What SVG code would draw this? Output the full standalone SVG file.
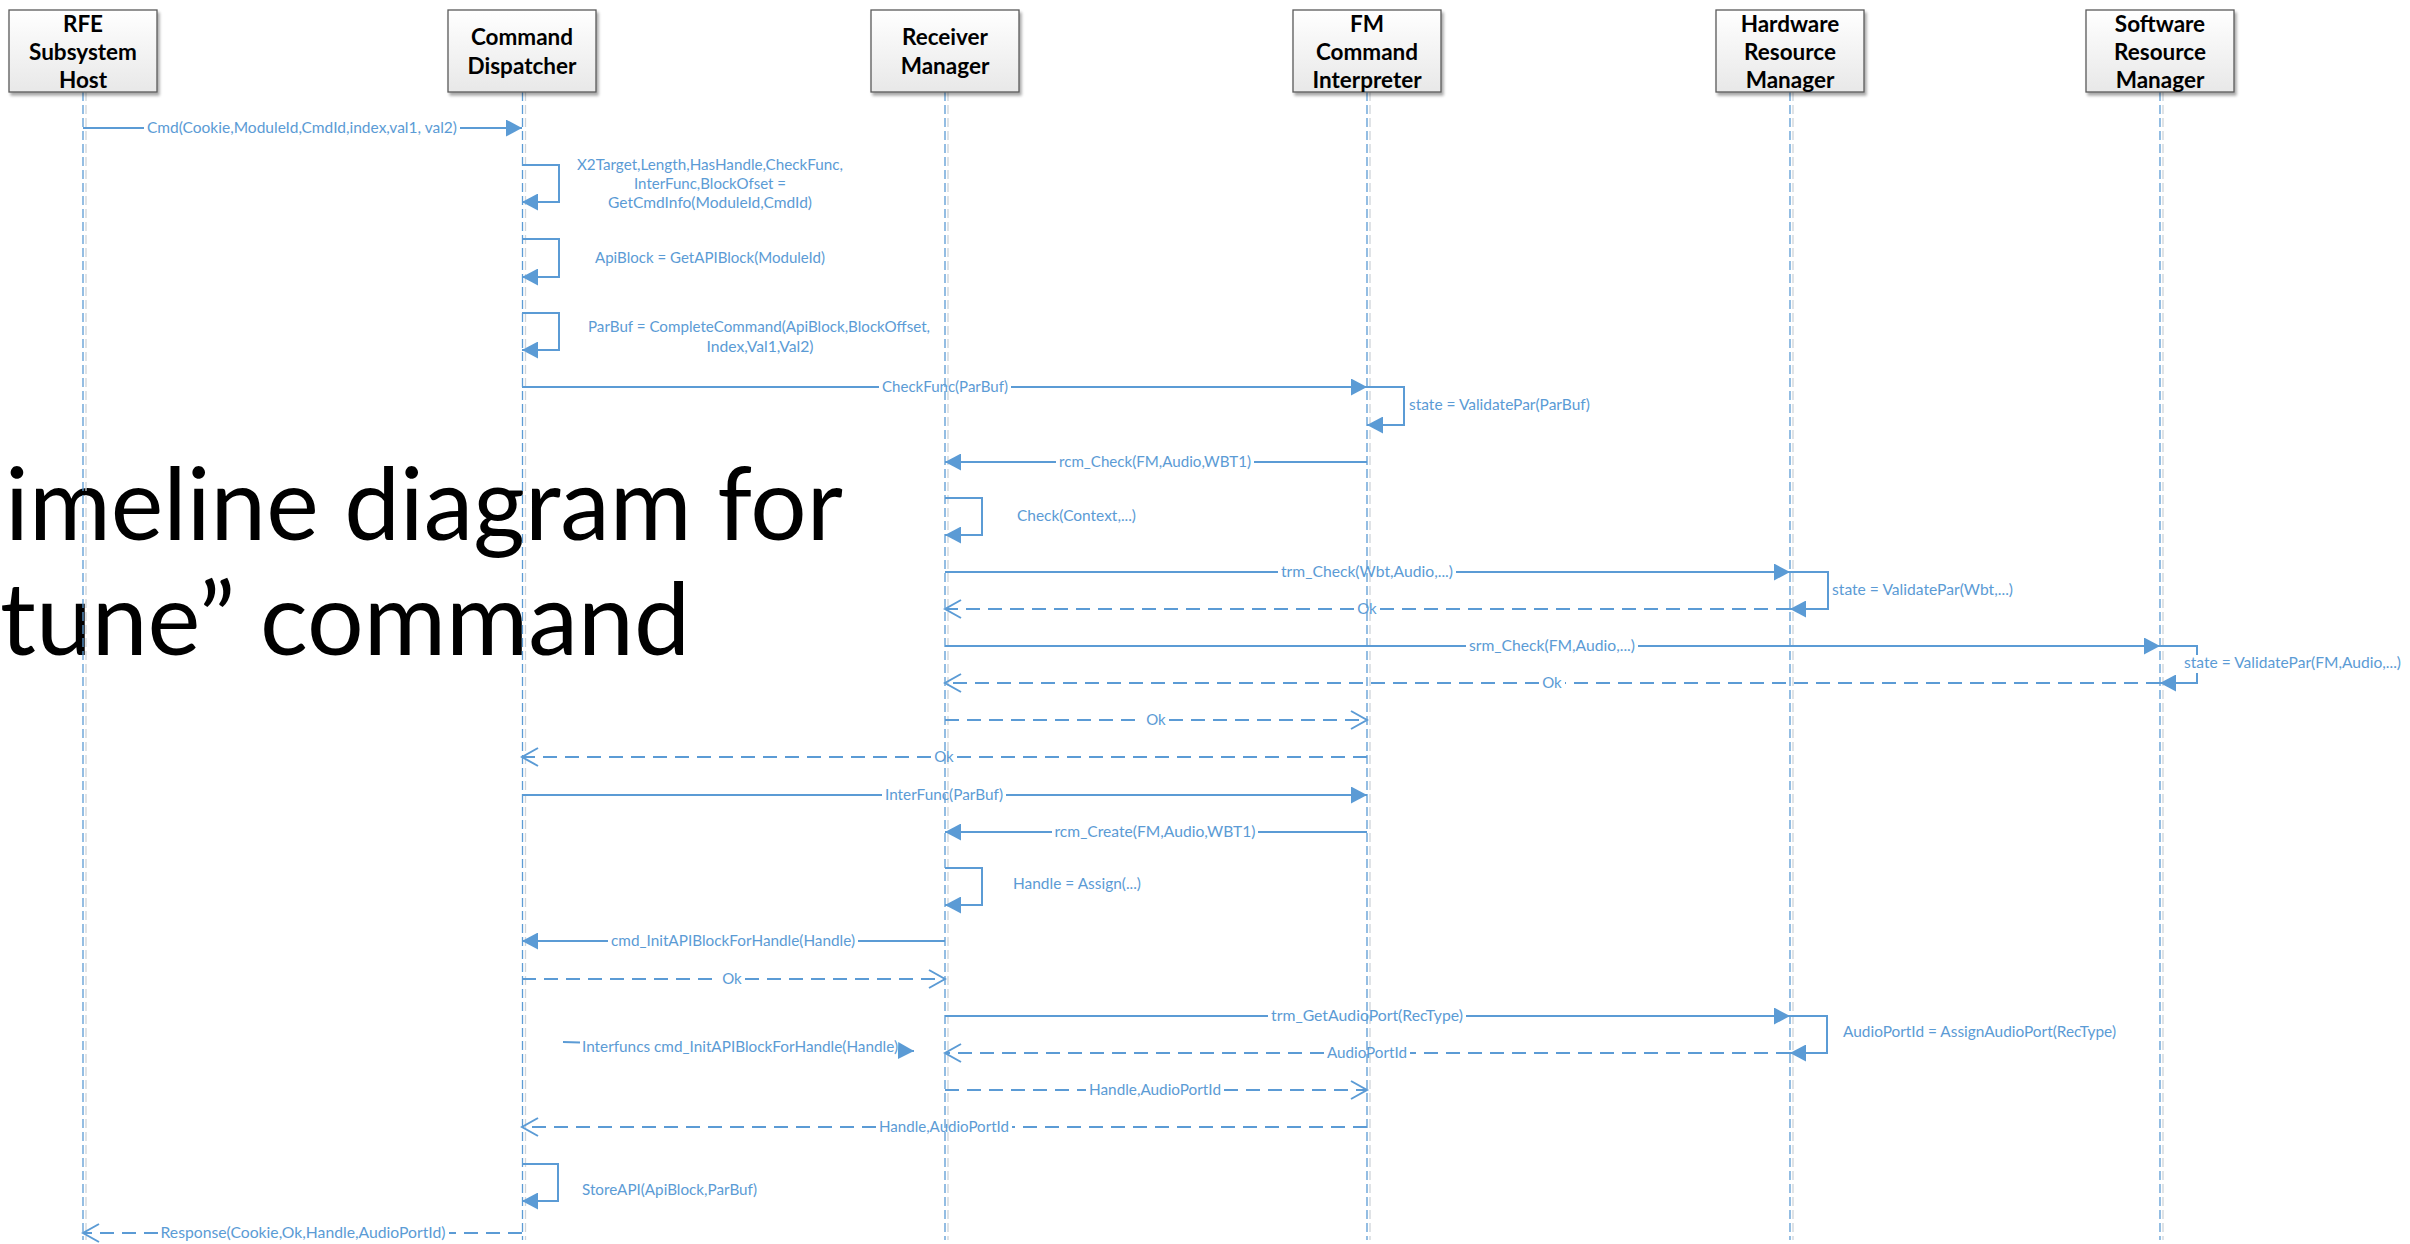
<svg xmlns="http://www.w3.org/2000/svg" width="2410" height="1244" viewBox="0 0 2410 1244">
<defs>
<linearGradient id="boxg" x1="0" y1="0" x2="0" y2="1">
<stop offset="0" stop-color="#ffffff"/>
<stop offset="1" stop-color="#e8e8e8"/>
</linearGradient>
<filter id="sh" x="-10%" y="-10%" width="130%" height="130%">
<feGaussianBlur in="SourceAlpha" stdDeviation="1.5"/>
<feOffset dx="2" dy="3" result="b"/>
<feComponentTransfer><feFuncA type="linear" slope="0.35"/></feComponentTransfer>
<feMerge><feMergeNode/><feMergeNode in="SourceGraphic"/></feMerge>
</filter>
<marker id="af" viewBox="0 0 16 17" refX="16" refY="8.5" markerWidth="16" markerHeight="17" markerUnits="userSpaceOnUse" orient="auto">
<path d="M0,0 L16,8.5 L0,17 Z" fill="#5b9bd5"/>
</marker>
<marker id="ao" viewBox="-2 -2 20 22" refX="16" refY="9" markerWidth="20" markerHeight="22" markerUnits="userSpaceOnUse" orient="auto">
<path d="M0,0 L16,9 L0,18" fill="none" stroke="#5b9bd5" stroke-width="2"/>
</marker>
</defs>
<style>
.box{fill:url(#boxg);stroke:#5a5a5a;stroke-width:1.3;filter:url(#sh)}
.bt{font-family:Lato,"Liberation Sans",sans-serif;font-weight:bold;font-size:22.5px;fill:#000;text-anchor:middle}
.ll{stroke:#5b9bd5;stroke-width:1.3;stroke-dasharray:9 4;fill:none}
.lls{stroke:#cfd4d9;stroke-width:1.3;stroke-dasharray:9 4;fill:none}
.m{stroke:#5b9bd5;stroke-width:2;fill:none;marker-end:url(#af)}
.r{stroke:#5b9bd5;stroke-width:2;fill:none;stroke-dasharray:14 8;marker-end:url(#ao)}
.lb{font-family:Lato,"Liberation Sans",sans-serif;font-size:15px;fill:#5b9bd5}
.c{text-anchor:middle}
.title{font-family:Lato,"Liberation Sans",sans-serif;font-size:100px;fill:#000}
</style>
<rect width="2410" height="1244" fill="#ffffff"/>

<g id="title">
<text class="title" x="5" y="540" textLength="838" lengthAdjust="spacingAndGlyphs">imeline diagram for</text>
<text class="title" x="0" y="655" textLength="690" lengthAdjust="spacingAndGlyphs">tune” command</text>
</g>

<g id="n-rfe">
<line class="lls" x1="86" y1="92" x2="86" y2="1240"/>
<line class="ll" x1="83" y1="92" x2="83" y2="1240"/>
<rect class="box" x="9" y="10" width="148" height="82"/>
<text class="bt" x="83" y="32">RFE</text>
<text class="bt" x="83" y="60">Subsystem</text>
<text class="bt" x="83" y="88">Host</text>
</g>
<g id="n-dispatcher">
<line class="lls" x1="525.5" y1="92" x2="525.5" y2="1240"/>
<line class="ll" x1="522.5" y1="92" x2="522.5" y2="1240"/>
<rect class="box" x="448" y="10" width="148" height="82"/>
<text class="bt" x="522" y="45">Command</text>
<text class="bt" x="522" y="74">Dispatcher</text>
</g>
<g id="n-receiver">
<line class="lls" x1="948" y1="92" x2="948" y2="1240"/>
<line class="ll" x1="945" y1="92" x2="945" y2="1240"/>
<rect class="box" x="871" y="10" width="148" height="82"/>
<text class="bt" x="945" y="45">Receiver</text>
<text class="bt" x="945" y="74">Manager</text>
</g>
<g id="n-fm">
<line class="lls" x1="1370" y1="92" x2="1370" y2="1240"/>
<line class="ll" x1="1367" y1="92" x2="1367" y2="1240"/>
<rect class="box" x="1293" y="10" width="148" height="82"/>
<text class="bt" x="1367" y="32">FM</text>
<text class="bt" x="1367" y="60">Command</text>
<text class="bt" x="1367" y="88">Interpreter</text>
</g>
<g id="n-hrm">
<line class="lls" x1="1793" y1="92" x2="1793" y2="1240"/>
<line class="ll" x1="1790" y1="92" x2="1790" y2="1240"/>
<rect class="box" x="1716" y="10" width="148" height="82"/>
<text class="bt" x="1790" y="32">Hardware</text>
<text class="bt" x="1790" y="60">Resource</text>
<text class="bt" x="1790" y="88">Manager</text>
</g>
<g id="n-srm">
<line class="lls" x1="2163" y1="92" x2="2163" y2="1240"/>
<line class="ll" x1="2160" y1="92" x2="2160" y2="1240"/>
<rect class="box" x="2086" y="10" width="148" height="82"/>
<text class="bt" x="2160" y="32">Software</text>
<text class="bt" x="2160" y="60">Resource</text>
<text class="bt" x="2160" y="88">Manager</text>
</g>

<g id="connectors">
<path class="m" d="M83 128 H144 M460 128 H522"/>
<path class="m" d="M522 165 H559 V202 H522"/>
<path class="m" d="M522 239 H559 V277 H522"/>
<path class="m" d="M522 313 H559 V350 H522"/>
<path class="m" d="M522 387 H879 M1011 387 H1367"/>
<path class="m" d="M1367 387 H1404 V425 H1367"/>
<path class="m" d="M1367 462 H1254 M1056 462 H945"/>
<path class="m" d="M945 498 H982 V535 H945"/>
<path class="m" d="M945 572 H1278 M1456 572 H1790"/>
<path class="m" d="M1790 572 H1828 V609 H1790"/>
<path class="r" d="M1790 609 H1380 M1354 609 H945"/>
<path class="m" d="M945 646 H1466 M1638 646 H2160"/>
<path class="m" d="M2160 646 H2197 V683 H2160"/>
<path class="r" d="M2160 683 H1565 M1539 683 H945"/>
<path class="r" d="M945 720 H1143 M1169 720 H1367"/>
<path class="r" d="M1367 757 H957 M931 757 H522"/>
<path class="m" d="M522 795 H882 M1006 795 H1367"/>
<path class="m" d="M1367 832 H1258 M1052 832 H945"/>
<path class="m" d="M945 868 H982 V905 H945"/>
<path class="m" d="M945 941 H858 M608 941 H522"/>
<path class="r" d="M522 979 H719 M745 979 H945"/>
<path class="m" d="M945 1016 H1268 M1466 1016 H1790"/>
<path class="m" d="M1790 1016 H1827 V1053 H1790"/>
<path class="r" d="M1790 1053 H1410 M1324 1053 H945"/>
<path class="m" d="M563 1042 L580 1042.4 M900 1050.6 L914 1051"/>
<path class="r" d="M945 1090 H1086 M1224 1090 H1367"/>
<path class="r" d="M1367 1127 H1012 M876 1127 H522"/>
<path class="m" d="M522 1164 H558 V1201 H522"/>
<path class="r" d="M522 1233 H449 M158 1233 H83"/>
</g>

<g id="labels">
<text class="lb c" x="302" y="133" textLength="310" lengthAdjust="spacingAndGlyphs">Cmd(Cookie,ModuleId,CmdId,index,val1, val2)</text>
<text class="lb c" x="710" y="170" textLength="266" lengthAdjust="spacingAndGlyphs">X2Target,Length,HasHandle,CheckFunc,</text>
<text class="lb c" x="710" y="189" textLength="152" lengthAdjust="spacingAndGlyphs">InterFunc,BlockOfset =</text>
<text class="lb c" x="710" y="208" textLength="204" lengthAdjust="spacingAndGlyphs">GetCmdInfo(ModuleId,CmdId)</text>
<text class="lb c" x="710" y="263" textLength="230" lengthAdjust="spacingAndGlyphs">ApiBlock = GetAPIBlock(ModuleId)</text>
<text class="lb c" x="759" y="332" textLength="342" lengthAdjust="spacingAndGlyphs">ParBuf = CompleteCommand(ApiBlock,BlockOffset,</text>
<text class="lb c" x="760" y="352" textLength="107" lengthAdjust="spacingAndGlyphs">Index,Val1,Val2)</text>
<text class="lb c" x="945" y="392" textLength="126" lengthAdjust="spacingAndGlyphs">CheckFunc(ParBuf)</text>
<text class="lb" x="1409" y="410" textLength="181" lengthAdjust="spacingAndGlyphs">state = ValidatePar(ParBuf)</text>
<text class="lb c" x="1155" y="467" textLength="192" lengthAdjust="spacingAndGlyphs">rcm_Check(FM,Audio,WBT1)</text>
<text class="lb" x="1017" y="521" textLength="119" lengthAdjust="spacingAndGlyphs">Check(Context,...)</text>
<text class="lb c" x="1367" y="577" textLength="172" lengthAdjust="spacingAndGlyphs">trm_Check(Wbt,Audio,...)</text>
<text class="lb" x="1832" y="595" textLength="181" lengthAdjust="spacingAndGlyphs">state = ValidatePar(Wbt,...)</text>
<text class="lb c" x="1367" y="614">Ok</text>
<text class="lb c" x="1552" y="651" textLength="166" lengthAdjust="spacingAndGlyphs">srm_Check(FM,Audio,...)</text>
<rect x="2182" y="655" width="222" height="18" fill="#ffffff"/>
<text class="lb" x="2184" y="668" textLength="217" lengthAdjust="spacingAndGlyphs">state = ValidatePar(FM,Audio,...)</text>
<text class="lb c" x="1552" y="688">Ok</text>
<text class="lb c" x="1156" y="725">Ok</text>
<text class="lb c" x="944" y="762">Ok</text>
<text class="lb c" x="944" y="800" textLength="118" lengthAdjust="spacingAndGlyphs">InterFunc(ParBuf)</text>
<text class="lb c" x="1155" y="837" textLength="201" lengthAdjust="spacingAndGlyphs">rcm_Create(FM,Audio,WBT1)</text>
<text class="lb" x="1013" y="889" textLength="128" lengthAdjust="spacingAndGlyphs">Handle = Assign(...)</text>
<text class="lb c" x="733" y="946" textLength="244" lengthAdjust="spacingAndGlyphs">cmd_InitAPIBlockForHandle(Handle)</text>
<text class="lb c" x="732" y="984">Ok</text>
<text class="lb c" x="1367" y="1021" textLength="192" lengthAdjust="spacingAndGlyphs">trm_GetAudioPort(RecType)</text>
<text class="lb" x="1843" y="1037" textLength="273" lengthAdjust="spacingAndGlyphs">AudioPortId = AssignAudioPort(RecType)</text>
<text class="lb c" x="1367" y="1058" textLength="80" lengthAdjust="spacingAndGlyphs">AudioPortId</text>
<text class="lb c" x="740" y="1052" textLength="316" lengthAdjust="spacingAndGlyphs">Interfuncs cmd_InitAPIBlockForHandle(Handle)</text>
<text class="lb c" x="1155" y="1095" textLength="132" lengthAdjust="spacingAndGlyphs">Handle,AudioPortId</text>
<text class="lb c" x="944" y="1132" textLength="130" lengthAdjust="spacingAndGlyphs">Handle,AudioPortId</text>
<text class="lb" x="582" y="1195" textLength="175" lengthAdjust="spacingAndGlyphs">StoreAPI(ApiBlock,ParBuf)</text>
<text class="lb c" x="303" y="1238" textLength="285" lengthAdjust="spacingAndGlyphs">Response(Cookie,Ok,Handle,AudioPortId)</text>
</g>
</svg>
